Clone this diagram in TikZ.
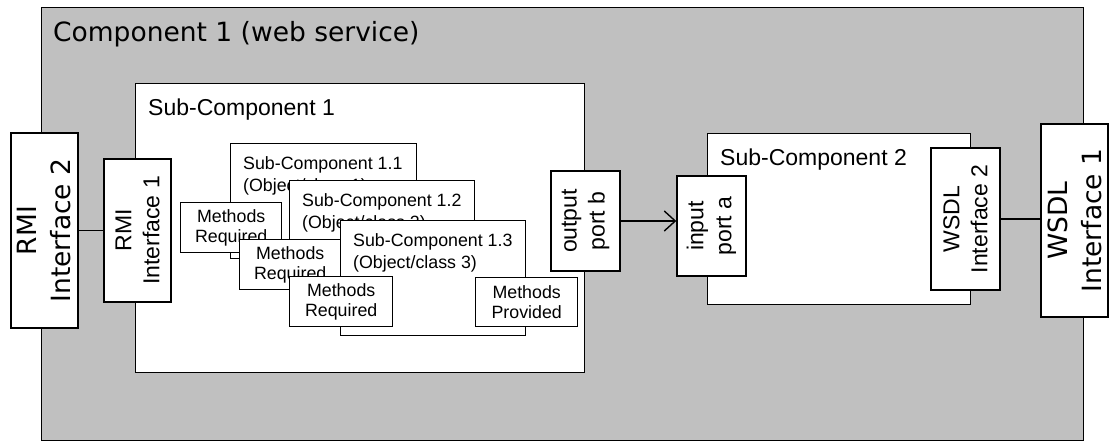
\documentclass[tikz,border=0pt]{standalone}
\usepackage{fontspec}
\setmainfont{Liberation Sans}
\newfontfamily\verdanafont{DejaVu Sans}
\usetikzlibrary{arrows.meta,positioning}
\definecolor{compgray}{RGB}{192,192,192}

\begin{document}
\begin{tikzpicture}[x=1pt,y=-1pt]
		\tikzstyle{box}=[draw,line width=1.4pt,fill=white,inner sep=0pt,anchor=north west]
		\tikzstyle{port}=[draw,line width=1.4pt,fill=white,inner sep=0pt,rotate=90,align=center,font=\fontsize{23}{28}\selectfont]
		\tikzstyle{iface}=[port,font=\verdanafont\fontsize{26.5}{34}\selectfont]
		\tikzstyle{methods}=[box,align=center,font=\fontsize{17.8}{20}\selectfont]
		\tikzstyle{bigtitle}=[inner sep=0pt,anchor=west,font=\fontsize{23}{28}\selectfont]
		\tikzstyle{subtitle}=[inner sep=0pt,anchor=north west,align=left,font=\fontsize{17.8}{22}\selectfont]
		\tikzstyle{link}=[line width=1.4pt]
		\tikzstyle{flow}=[line width=1.4pt,-{Straight Barb[length=11pt,width=20pt]}]
		
		\useasboundingbox (0,0) rectangle (1109,443);
		
		% Component 1 (web service)
		\node[box,fill=compgray,minimum width=1042pt,minimum height=433pt] (comp) at (41,7) {};
		\node[bigtitle,font=\verdanafont\fontsize{26.5}{32}\selectfont] (comptitle) at ([shift={(12,27)}]comp.north west) {Component 1 (web service)};
		
		\node[iface,minimum width=195pt,minimum height=67pt] (rmi2) at (44.5,230.5) {RMI\\Interface 2};
		\node[iface,minimum width=193pt,minimum height=67pt] (wsdl1) at (1074.5,220.5) {WSDL\\Interface 1};
		
		% Sub-Component 1
		\node[box,minimum width=449pt,minimum height=289pt] (sub1) at (135,83) {};
		\node[bigtitle] (sub1title) at ([shift={(13,27)}]sub1.north west) {Sub-Component 1};
		\node[port,minimum width=143pt,minimum height=67pt] (rmi1) at (137.5,230.5) {RMI\\Interface 1};
		
		\node[box,minimum width=186pt,minimum height=115pt] (sub11) at (230,143) {};
		\node[subtitle] (sub11title) at ([shift={(13,13)}]sub11.north west) {Sub-Component 1.1\\(Object/class 1)};
		\node[methods,minimum width=101pt,minimum height=50pt] (req1) at (180,202) {Methods\\Required};
		
		\node[box,minimum width=185pt,minimum height=120pt] (sub12) at (289,180) {};
		\node[subtitle] (sub12title) at ([shift={(13,13)}]sub12.north west) {Sub-Component 1.2\\(Object/class 2)};
		\node[methods,minimum width=101pt,minimum height=50pt] (req2) at (239,239) {Methods\\Required};
		
		\node[box,minimum width=185pt,minimum height=115pt] (sub13) at (340,220) {};
		\node[subtitle] (sub13title) at ([shift={(13,13)}]sub13.north west) {Sub-Component 1.3\\(Object/class 3)};
		\node[methods,minimum width=103pt,minimum height=50pt] (req3) at (289,276) {Methods\\Required};
		\node[methods,minimum width=102pt,minimum height=49pt] (prov) at (475,277) {Methods\\Provided};
		
		\node[port,minimum width=100pt,minimum height=69pt] (outb) at (585.5,221) {output\\port b};
		
		% Sub-Component 2
		\node[box,minimum width=263pt,minimum height=171pt] (sub2) at (707,133) {};
		\node[bigtitle] (sub2title) at ([shift={(13,27)}]sub2.north west) {Sub-Component 2};
		\node[port,minimum width=100pt,minimum height=69pt] (ina) at (711.5,226) {input\\port a};
		\node[port,minimum width=142pt,minimum height=69pt] (wsdl2) at (965.5,219) {WSDL\\Interface 2};
		
		% Verbindungen
		\draw[link] (rmi2.south) -- (rmi1.north);
		\draw[flow] (outb.south) -- (outb.south -| ina.north);
		\draw[link] (wsdl2.south) -- (wsdl2.south -| wsdl1.north);
\end{tikzpicture}
\end{document}
